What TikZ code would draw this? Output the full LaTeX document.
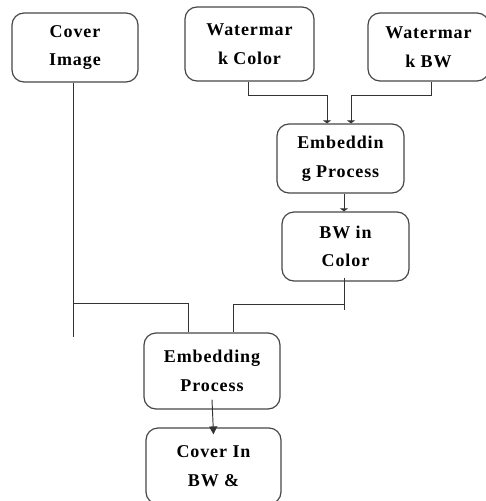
\documentclass[tikz,border=0pt]{standalone}
\usepackage{fontspec}
\newfontfamily\boxfont{Liberation Serif}[LetterSpace=5]
\usetikzlibrary{arrows.meta, positioning, calc}
\definecolor{lineGray}{gray}{0.2}
\definecolor{boxGray}{gray}{0.28}
\begin{document}
\begin{tikzpicture}[x=1pt, y=-1pt, >=stealth,
    block/.style={draw=boxGray, line width=1.2pt, rounded corners=12pt, inner sep=0pt,
        align=center, font=\boxfont\bfseries\fontsize{18}{28.5}\selectfont},
    link/.style={draw=lineGray, line width=0.95pt},
    flat/.style={-{Triangle[length=3pt,width=8pt]}},
    tip/.style={-{Triangle[length=8pt,width=8pt]}}]
    \useasboundingbox (0,0) rectangle (485,501);

    % Blocks
    \node[block, minimum width=126pt, minimum height=69pt] (cover) at (75,47.5) {Cover\\Image};
    \node[block, minimum width=129pt, minimum height=74pt] (wmc) at (249.5,44) {Watermar\\k Color};
    \node[block, minimum width=121pt, minimum height=68pt] (wmbw) at (428.5,47) {Watermar\\k BW};
    \node[block, minimum width=127pt, minimum height=69pt] (emb1) at (340.5,158.5) {Embeddin\\g Process};
    \node[block, minimum width=127pt, minimum height=69pt] (bwc) at (345.5,246.5) {BW in\\Color};
    \node[block, minimum width=136pt, minimum height=76pt] (emb2) at (212,371) {Embedding\\Process};
    \node[block, minimum width=135pt, minimum height=76pt] (cib) at (213.5,466) {Cover In\\BW \&};

    % Watermarks into first embedding
    \draw[link, flat] ([xshift=-1.5pt]wmc.south) -- ++(0,14) -| ([xshift=-13.5pt]emb1.north);
    \draw[link, flat] ([xshift=2.5pt]wmbw.south) -- ++(0,14) -| ([xshift=10.5pt]emb1.north);
    \draw[link, flat] ([xshift=3.5pt]emb1.south) -- ([xshift=3.5pt]emb1.south |- bwc.north);

    % Joins into second embedding
    \coordinate (jL) at (73,303);
    \coordinate (jR) at (344,304);
    \draw[link] (cover.south -| jL) -- ++(0,254);
    \draw[link] (jL) -| ([xshift=-24pt]emb2.north);
    \draw[link] ([yshift=4pt]bwc.south -| jR) -- ++(0,32);
    \draw[link] (jR) -| ([xshift=21pt]emb2.north);

    \draw[link, tip] ([yshift=10pt]emb2.south) -- ([yshift=-7pt]cib.north);
\end{tikzpicture}
\end{document}
